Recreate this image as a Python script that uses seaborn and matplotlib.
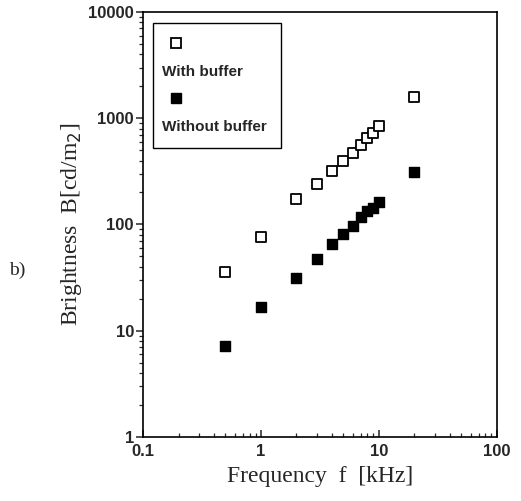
import numpy as np
import pandas as pd
import matplotlib
matplotlib.use('Agg')
import matplotlib.pyplot as plt
import seaborn as sns
from matplotlib.lines import Line2D
from matplotlib.ticker import FuncFormatter, LogLocator

# data (frequency in kHz, brightness in cd/m2)
freq = [0.5, 1, 2, 3, 4, 5, 6, 7, 8, 9, 10, 20]
with_buffer = [36, 76, 172, 240, 318, 392, 475, 563, 648, 728, 840, 1590]
without_buffer = [7.2, 16.8, 31.5, 47.5, 65, 81, 96, 118, 135, 144, 163, 310]

x_ticks = [0.1, 1, 10, 100]
y_ticks = [1, 10, 100, 1000, 10000]
series_names = ['With buffer', 'Without buffer']

df = pd.DataFrame({'freq': freq, 'with': with_buffer, 'without': without_buffer})

sns.set_style('white')
plt.rcParams['font.family'] = ['Liberation Serif', 'DejaVu Serif']

fig = plt.figure(figsize=(5.21, 5.01), dpi=100)
ax = fig.add_axes([0.2745, 0.128, 0.679, 0.848])

# open squares = with buffer, filled squares = without buffer
sns.scatterplot(data=df, x='freq', y='with', marker='s', s=50,
                facecolor='white', edgecolor='black', linewidth=1.3, ax=ax, zorder=3)
sns.scatterplot(data=df, x='freq', y='without', marker='s', s=56,
                color='black', edgecolor='black', linewidth=1.0, ax=ax, zorder=3)

ax.set_xscale('log')
ax.set_yscale('log')
ax.set_xlim(0.1, 100)
ax.set_ylim(1, 10000)
ax.set_xticks(x_ticks)
ax.set_yticks(y_ticks)
fmt = FuncFormatter(lambda v, p: '%g' % v)
ax.xaxis.set_major_formatter(fmt)
ax.yaxis.set_major_formatter(fmt)
ax.xaxis.set_minor_locator(LogLocator(base=10, subs=np.arange(2, 10)))
ax.yaxis.set_minor_locator(LogLocator(base=10, subs=np.arange(2, 10)))

for s in ax.spines.values():
    s.set_color('black')
    s.set_linewidth(1.2)

ax.tick_params(axis='x', which='major', direction='in', length=5, width=1.1, bottom=True, pad=5)
ax.tick_params(axis='x', which='minor', direction='in', length=3, width=0.9, bottom=True)
ax.tick_params(axis='y', which='major', direction='out', length=5, width=1.1, left=True, pad=1.5)
ax.tick_params(axis='y', which='minor', direction='out', length=3, width=0.9, left=True)
for lab in ax.get_xticklabels() + ax.get_yticklabels():
    lab.set_fontfamily('Liberation Sans')
    lab.set_fontweight('bold')
    lab.set_fontsize(12)

ax.set_xlabel('Frequency  f  [kHz]', fontsize=17, labelpad=5)
ax.set_ylabel('Brightness  B[cd/m$_2$]', fontsize=17, labelpad=3)
fig.text(0.018, 0.461, 'b)', fontsize=14, ha='left', va='center')

# legend: marker on one row, label on the next
blank = Line2D([], [], linestyle='none', marker='')
h_open = Line2D([], [], linestyle='none', marker='s', markersize=7.5,
                markerfacecolor='white', markeredgecolor='black', markeredgewidth=1.3)
h_fill = Line2D([], [], linestyle='none', marker='s', markersize=7.5,
                markerfacecolor='black', markeredgecolor='black')
leg = ax.legend([h_open, blank, h_fill, blank],
                ['', series_names[0], '', series_names[1]],
                loc='upper left', bbox_to_anchor=(0.028, 0.974), borderaxespad=0,
                handlelength=1.2, handletextpad=-1.53, labelspacing=0.9,
                borderpad=0.92, fancybox=False, framealpha=1,
                prop={'family': 'Liberation Sans', 'weight': 'bold', 'size': 11})
leg.get_frame().set_edgecolor('black')
leg.get_frame().set_linewidth(1.0)

fig.savefig('out.png', dpi=100)
